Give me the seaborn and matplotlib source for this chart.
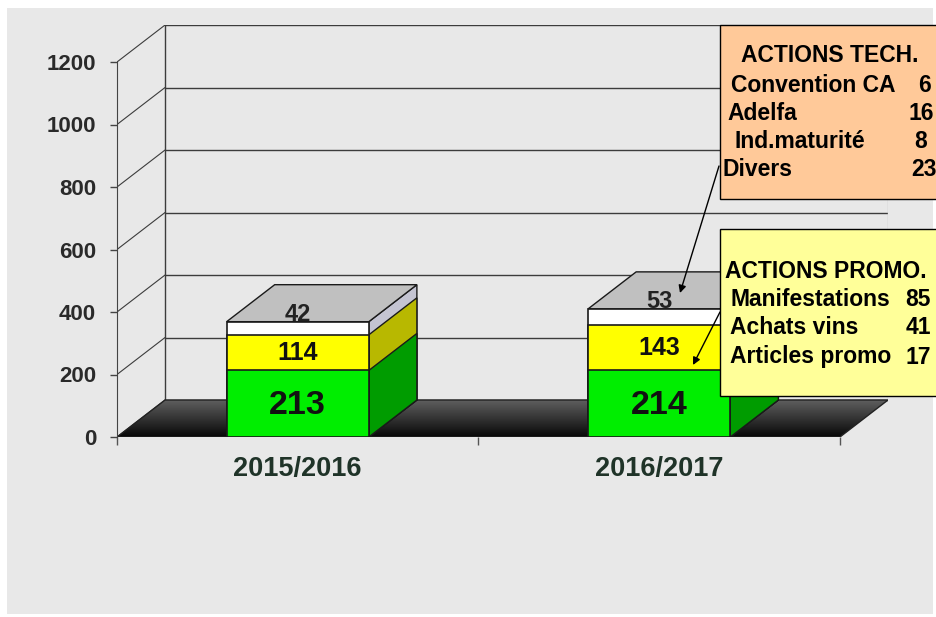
import numpy as np
import matplotlib
matplotlib.use("Agg")
import matplotlib.pyplot as plt
from matplotlib.patches import Polygon, Rectangle
from matplotlib.colors import LinearSegmentedColormap
import seaborn as sns

# data
seasons = ["2015/2016", "2016/2017"]
base = [213, 214]      # green layer
promo = [114, 143]     # yellow layer
tech = [42, 53]        # white layer
yticks = [0, 200, 400, 600, 800, 1000, 1200]

tech_items = ["ACTIONS TECH.", "Convention CA", "Adelfa", "Ind.maturité", "Divers"]
tech_values = ["", "6", "16", "8", "23"]
promo_items = ["ACTIONS PROMO.", "Manifestations", "Achats vins", "Articles promo"]
promo_values = ["", "85", "41", "17"]

mid = [b + p for b, p in zip(base, promo)]
totals = [m + t for m, t in zip(mid, tech)]

sns.set_style("white")
plt.rcParams["font.family"] = ["Liberation Sans", "DejaVu Sans"]

W, H = 936, 617
fig = plt.figure(figsize=(W / 100, H / 100), dpi=100)
fig.patch.set_facecolor("white")
fig.add_artist(Rectangle((7 / W, 3 / H), 926 / W, 606 / H, transform=fig.transFigure,
                         facecolor="#e8e8e8", edgecolor="none", zorder=-10))

ax = fig.add_axes([117 / W, 180 / H, 771 / W, 412 / H])
ax.set_facecolor("none")

y_top = 1318.4
dy = 118.4
dx = 48 / 361
bar_w = 142 / 361

# back wall and grid
for v in yticks:
    ax.plot([-0.5 + dx, 1.5 + dx], [v + dy, v + dy], color="#3c3c3c", lw=1, zorder=1)
    ax.plot([-0.5, -0.5 + dx], [v, v + dy], color="#3c3c3c", lw=0.8, zorder=1)
ax.plot([-0.5 + dx] * 2, [dy, 1200 + dy], color="#3c3c3c", lw=1, zorder=1)
ax.plot([1.5 + dx] * 2, [dy, 1200 + dy], color="#c4c4c4", lw=1, zorder=1)

# floor
floor = Polygon([(-0.5, 0), (1.5, 0), (1.5 + dx, dy), (-0.5 + dx, dy)], closed=True,
                facecolor="none", edgecolor="#222222", lw=1, zorder=1.6)
ax.add_patch(floor)
grad = np.linspace(0, 1, 64).reshape(-1, 1)
floor_cmap = LinearSegmentedColormap.from_list("floor", ["#080808", "#5e5e5e"])
im = ax.imshow(grad, extent=(-0.5, 1.5 + dx, 0, dy), origin="lower", cmap=floor_cmap,
               aspect="auto", zorder=1.5)
im.set_clip_path(floor)

# stacked bars (overlay of cumulative totals)
layers = [(totals, "#ffffff", "#c4c4d2"), (mid, "#ffff00", "#b8b800"), (base, "#00ee00", "#009c00")]
for k, (heights, front, side) in enumerate(layers):
    sns.barplot(x=seasons, y=heights, color=front, width=bar_w, edgecolor="#1a1a1a",
                linewidth=1.2, errorbar=None, saturation=1, ax=ax, zorder=3 + k * 0.1)
    for r in ax.containers[-1]:
        x1 = r.get_x() + r.get_width()
        h = r.get_height()
        ax.add_patch(Polygon([(x1, 0), (x1 + dx, dy), (x1 + dx, h + dy), (x1, h)], closed=True,
                             facecolor=side, edgecolor="#1a1a1a", lw=1, zorder=2.5 + k * 0.1))
        if k == 0:
            x0 = r.get_x()
            ax.add_patch(Polygon([(x0, h), (x0 + dx, h + dy), (x1 + dx, h + dy), (x1, h)], closed=True,
                                 facecolor="#c0c0c0", edgecolor="#1a1a1a", lw=1, zorder=2.6))

for i in range(len(seasons)):
    ax.text(i, base[i] / 2 - 6, str(base[i]), ha="center", va="center", fontsize=24.5,
            fontweight="bold", color="#111111", zorder=6)
    ax.text(i, base[i] + promo[i] / 2, str(promo[i]), ha="center", va="center", fontsize=18,
            fontweight="bold", color="#111111", zorder=6)
    ax.text(i, totals[i] + 24, str(tech[i]), ha="center", va="center", fontsize=17,
            fontweight="bold", color="#222222", zorder=6)

ax.set_xlim(-0.5, 1.5 + dx)
ax.set_ylim(0, y_top)
for s in ["top", "right", "bottom"]:
    ax.spines[s].set_visible(False)
ax.spines["left"].set_bounds(0, 1200)
ax.spines["left"].set_color("#444444")
ax.set_yticks(yticks)
ax.set_yticklabels([str(v) for v in yticks], fontsize=16, fontweight="bold", color="#2a2a2a")
ax.tick_params(axis="y", left=True, length=5, width=1, color="#444444", pad=10)
ax.set_xticks([0, 1])
ax.set_xticklabels(seasons, fontsize=19.5, fontweight="bold", color="#1f3328")
ax.set_xticks([-0.5, 0.5, 1.5], minor=True)
ax.tick_params(axis="x", which="major", length=0, pad=14)
ax.tick_params(axis="x", which="minor", bottom=True, length=6, width=1, color="#555555")
ax.set_xlabel("")
ax.set_ylabel("")

# annotation boxes
ov = fig.add_axes([0, 0, 1, 1], zorder=10)
ov.set_xlim(0, W)
ov.set_ylim(H, 0)
ov.axis("off")

arrow = dict(arrowstyle="-|>", color="black", lw=1, mutation_scale=11, shrinkA=0, shrinkB=0)
ov.annotate("", xy=(680, 293), xytext=(719, 166), arrowprops=arrow)
ov.annotate("", xy=(693, 365), xytext=(720, 312), arrowprops=arrow)

ov.add_patch(Rectangle((720, 25), 240, 174, facecolor="#ffc999", edgecolor="black", lw=1, zorder=3))
ov.add_patch(Rectangle((720, 229), 240, 167, facecolor="#ffff99", edgecolor="black", lw=1, zorder=3))

txt = dict(fontsize=16.5, fontweight="bold", color="black", va="center", zorder=5)
tech_y = [55, 85, 114, 142, 170]
tech_x = [830, 731, 727, 735, 723]
tech_vx = [None, 931, 934, 927, 937]
for i, item in enumerate(tech_items):
    if i == 0:
        ov.text(tech_x[i], tech_y[i], item, ha="center", **txt)
    else:
        ov.text(tech_x[i], tech_y[i], item, ha="left", **txt)
        ov.text(tech_vx[i], tech_y[i], tech_values[i], ha="right", **txt)

promo_y = [272, 299, 328, 357]
for i, item in enumerate(promo_items):
    if i == 0:
        ov.text(725, promo_y[i], item, ha="left", **txt)
    else:
        ov.text(730, promo_y[i], item, ha="left", **txt)
        ov.text(931, promo_y[i], promo_values[i], ha="right", **txt)

fig.savefig("out.png", dpi=100)
